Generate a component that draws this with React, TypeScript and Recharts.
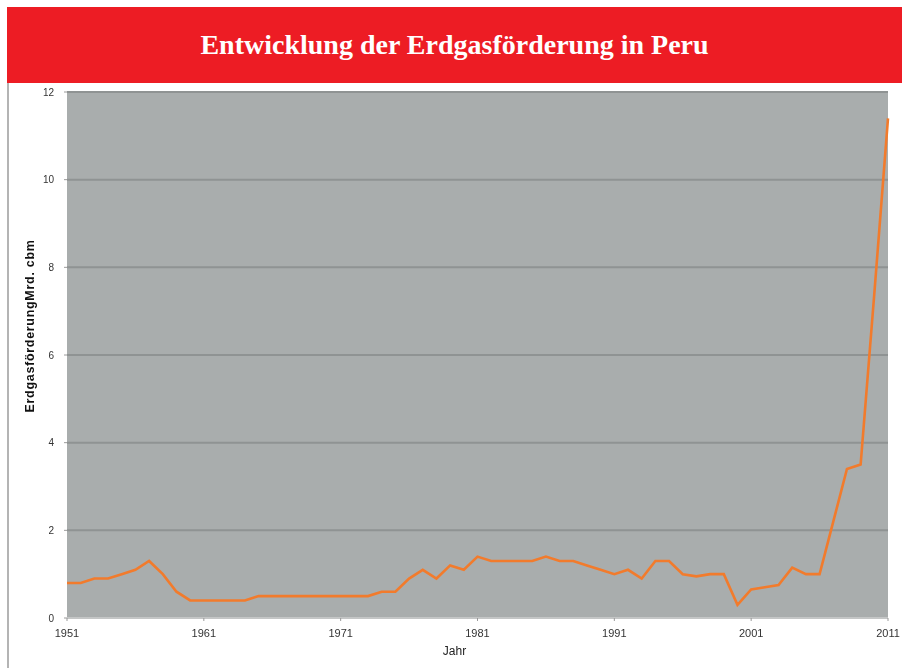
import React from 'react';
import { LineChart, Line, XAxis, YAxis, CartesianGrid } from 'recharts';

const years: number[] = [
  1951, 1952, 1953, 1954, 1955, 1956, 1957, 1958, 1959, 1960,
  1961, 1962, 1963, 1964, 1965, 1966, 1967, 1968, 1969, 1970,
  1971, 1972, 1973, 1974, 1975, 1976, 1977, 1978, 1979, 1980,
  1981, 1982, 1983, 1984, 1985, 1986, 1987, 1988, 1989, 1990,
  1991, 1992, 1993, 1994, 1995, 1996, 1997, 1998, 1999, 2000,
  2001, 2002, 2003, 2004, 2005, 2006, 2007, 2008, 2009, 2010, 2011,
];

const production: number[] = [
  0.8, 0.8, 0.9, 0.9, 1.0, 1.1, 1.3, 1.0, 0.6, 0.4,
  0.4, 0.4, 0.4, 0.4, 0.5, 0.5, 0.5, 0.5, 0.5, 0.5,
  0.5, 0.5, 0.5, 0.6, 0.6, 0.9, 1.1, 0.9, 1.2, 1.1,
  1.4, 1.3, 1.3, 1.3, 1.3, 1.4, 1.3, 1.3, 1.2, 1.1,
  1.0, 1.1, 0.9, 1.3, 1.3, 1.0, 0.95, 1.0, 1.0, 0.3,
  0.65, 0.7, 0.75, 1.15, 1.0, 1.0, 2.2, 3.4, 3.5, 7.4, 11.4,
];

const xTicks: number[] = [1951, 1961, 1971, 1981, 1991, 2001, 2011];
const yTicks: number[] = [0, 2, 4, 6, 8, 10, 12];

const title = 'Entwicklung der Erdgasförderung in Peru';
const yLabel = 'ErdgasförderungMrd. cbm';
const xLabel = 'Jahr';

const data = years.map((y, i) => ({ year: y, value: production[i] }));

const renderXLabel = (props: any) => {
  const vb = props.viewBox || {};
  const cx = (vb.x || 0) + (vb.width || 0) / 2 - 23;
  return (
    <text x={cx} y={568} textAnchor="middle" dominantBaseline="central"
      fontFamily="Liberation Sans, Arial, sans-serif" fontSize={12} fill="#222">
      {xLabel}
    </text>
  );
};

const renderYLabel = () => {
  return (
    <text x={21} y={243} transform="rotate(-90 21 243)" textAnchor="middle"
      dominantBaseline="central" fontFamily="Liberation Sans, Arial, sans-serif"
      fontWeight="bold" fontSize={12.5} letterSpacing={0.7} fill="#111">
      {yLabel}
    </text>
  );
};

export default function App() {
  return (
    <div style={{ position: 'fixed', left: 7, top: 7, width: 895, height: 661 }}>
      <div
        style={{
          height: 76,
          background: '#ED1C24',
          color: '#fff',
          textAlign: 'center',
          lineHeight: '76px',
          fontFamily: 'Liberation Serif, Times New Roman, serif',
          fontWeight: 'bold',
          fontSize: 28,
        }}
      >
        {title}
      </div>
      <div style={{ borderLeft: '2px solid #b4b4b4', width: 893, height: 585 }}>
        <LineChart
          width={893}
          height={585}
          data={data}
          margin={{ top: 9, right: 14, left: 0, bottom: 0 }}
        >
          <CartesianGrid
            vertical={false}
            horizontal={true}
            fill="#a9adad"
            stroke="#8f9393"
            strokeWidth={2}
          />
          <XAxis
            dataKey="year"
            type="number"
            domain={[1951, 2011]}
            ticks={xTicks}
            interval={0}
            height={50}
            tickSize={3}
            tickMargin={8}
            axisLine={{ stroke: '#c4c6c6', strokeWidth: 2 }}
            tickLine={{ stroke: '#9a9a9a' }}
            tick={{ fontFamily: 'Liberation Sans, Arial, sans-serif', fontSize: 11, fill: '#333' }}
            label={renderXLabel}
          />
          <YAxis
            type="number"
            domain={[0, 12]}
            ticks={yTicks}
            interval={0}
            width={58}
            tickSize={3}
            tickMargin={10}
            axisLine={false}
            tickLine={{ stroke: '#9a9a9a' }}
            tick={{ fontFamily: 'Liberation Sans, Arial, sans-serif', fontSize: 10, fill: '#333' }}
            label={renderYLabel}
          />
          <Line
            type="linear"
            dataKey="value"
            stroke="#F27B2C"
            strokeWidth={2.6}
            dot={false}
            activeDot={false}
            isAnimationActive={false}
          />
        </LineChart>
      </div>
    </div>
  );
}
